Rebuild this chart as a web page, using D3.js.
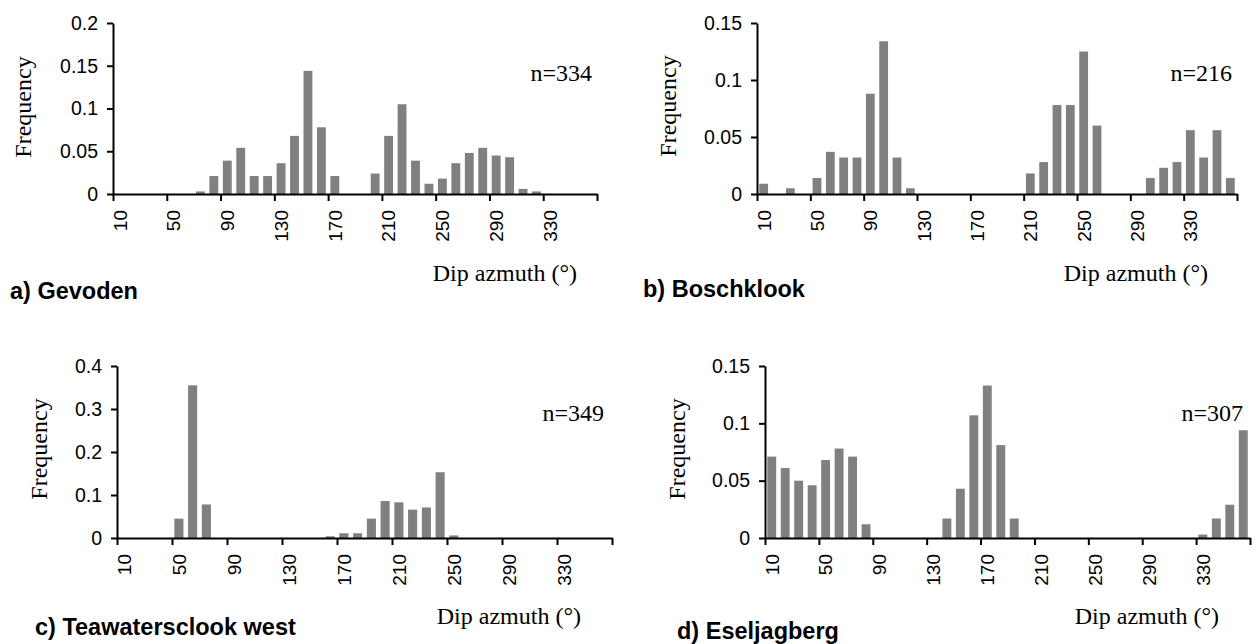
<!DOCTYPE html>
<html>
<head>
<meta charset="utf-8">
<title>Dip azimuth frequency distributions</title>
<script src="https://cdn.jsdelivr.net/npm/d3@7/dist/d3.min.js"></script>
<style>
  html, body { margin: 0; padding: 0; background: #fff; }
  svg { display: block; }
  .tick text { font-family: Arial, "Liberation Sans", sans-serif; font-size: 19.5px; fill: #000; }
  .xlab { font-family: Arial, "Liberation Sans", sans-serif; font-size: 19px; fill: #000; }
  .serif { font-family: "Times New Roman", "Liberation Serif", serif; font-size: 24px; fill: #000; }
  .panel-title { font-family: Arial, "Liberation Sans", sans-serif; font-size: 23.5px; font-weight: bold; fill: #000; }
  .domain, .tick line { stroke: #000; stroke-width: 2; }
</style>
</head>
<body>
<svg id="chart" width="1256" height="644"></svg>
<script>
// 10° dip-azimuth classes (upper class limit)
const azimuthBins = [10, 20, 30, 40, 50, 60, 70, 80, 90, 100, 110, 120,
                     130, 140, 150, 160, 170, 180, 190, 200, 210, 220, 230, 240,
                     250, 260, 270, 280, 290, 300, 310, 320, 330, 340, 350, 360];
const xTickLabels = [10, 50, 90, 130, 170, 210, 250, 290, 330];

// relative frequency per class
const gevoden = [0, 0, 0, 0, 0, 0, 0.003, 0.021, 0.039, 0.054, 0.021, 0.021,
                 0.036, 0.068, 0.144, 0.078, 0.021, 0, 0, 0.024, 0.068, 0.105, 0.039, 0.012,
                 0.018, 0.036, 0.048, 0.054, 0.045, 0.043, 0.006, 0.003, 0, 0, 0, 0];
const boschklook = [0.009, 0, 0.005, 0, 0.014, 0.037, 0.032, 0.032, 0.088, 0.134, 0.032, 0.005,
                    0, 0, 0, 0, 0, 0, 0, 0, 0.018, 0.028, 0.078, 0.078,
                    0.125, 0.060, 0, 0, 0, 0.014, 0.023, 0.028, 0.056, 0.032, 0.056, 0.014];
const teawatersclook = [0, 0, 0, 0, 0.045, 0.355, 0.078, 0, 0, 0, 0, 0,
                        0, 0, 0, 0.004, 0.011, 0.011, 0.045, 0.086, 0.083, 0.066, 0.071, 0.153,
                        0.006, 0, 0, 0, 0, 0, 0, 0, 0, 0, 0, 0];
const eseljagberg = [0.071, 0.061, 0.050, 0.046, 0.068, 0.078, 0.071, 0.012, 0, 0, 0, 0,
                     0, 0.017, 0.043, 0.107, 0.133, 0.081, 0.017, 0, 0, 0, 0, 0,
                     0, 0, 0, 0, 0, 0, 0, 0, 0.003, 0.017, 0.029, 0.094];

const panelTitles = ["a) Gevoden", "b) Boschklook", "c) Teawatersclook west", "d) Eseljagberg"];
const sampleSizes = [334, 216, 349, 307];
const yMaxima = [0.2, 0.15, 0.4, 0.15];
const yTicksA = [0, 0.05, 0.1, 0.15, 0.2];
const yTicksB = [0, 0.05, 0.1, 0.15];
const yTicksC = [0, 0.1, 0.2, 0.3, 0.4];
const yTicksD = [0, 0.05, 0.1, 0.15];

const xTitle = "Dip azmuth (°)";
const yTitle = "Frequency";

// frame geometry for each of the four panels
const frames = [
  { left: 113, right: 597,  top: 23,  bottom: 194, freqX: 25,  freqY: 107, nRight: 592,  nY: 81,  dipRight: 577,  dipY: 281, titleX: 10,  titleY: 299 },
  { left: 757, right: 1237, top: 23,  bottom: 194, freqX: 670, freqY: 106, nRight: 1232, nY: 81,  dipRight: 1208, dipY: 281, titleX: 643, titleY: 297 },
  { left: 117, right: 612,  top: 366, bottom: 538, freqX: 41,  freqY: 449, nRight: 604,  nY: 421, dipRight: 581,  dipY: 624, titleX: 35,  titleY: 635 },
  { left: 765, right: 1250, top: 366, bottom: 538, freqX: 679, freqY: 449, nRight: 1243, nY: 421, dipRight: 1219, dipY: 624, titleX: 677, titleY: 639 }
];

const seriesList = [gevoden, boschklook, teawatersclook, eseljagberg];
const yTickList = [yTicksA, yTicksB, yTicksC, yTicksD];

const svg = d3.select("#chart");
const fmt = d3.format("~g");

seriesList.forEach((values, p) => {
  const f = frames[p];
  const g = svg.append("g");

  const x = d3.scaleBand()
    .domain(azimuthBins)
    .range([f.left, f.right])
    .paddingInner(0.34)
    .paddingOuter(0.17);

  // class boundaries, for the tick marks between classes
  const edge = d3.scaleLinear().domain([0, azimuthBins.length]).range([f.left, f.right]);

  const y = d3.scaleLinear().domain([0, yMaxima[p]]).range([f.bottom, f.top]);

  // bars
  g.append("g")
    .selectAll("rect")
    .data(azimuthBins.map((b, i) => ({ bin: b, v: values[i] })))
    .join("rect")
    .attr("x", d => x(d.bin))
    .attr("width", x.bandwidth())
    .attr("y", d => y(d.v))
    .attr("height", d => f.bottom - y(d.v))
    .attr("fill", "#808080");

  // y axis
  g.append("g")
    .attr("transform", `translate(${f.left},0)`)
    .call(d3.axisLeft(y).tickValues(yTickList[p]).tickSize(6).tickSizeOuter(0).tickPadding(9).tickFormat(fmt));

  // x axis: tick marks every four classes
  g.append("g")
    .attr("transform", `translate(0,${f.bottom})`)
    .call(d3.axisBottom(edge).tickValues(d3.range(0, azimuthBins.length + 1, 4)).tickSize(7).tickSizeOuter(0).tickFormat(""));

  // x tick labels, rotated, centred on their class
  g.append("g")
    .selectAll("text")
    .data(xTickLabels)
    .join("text")
    .attr("class", "xlab")
    .attr("transform", d => `translate(${x(d) + x.bandwidth() / 2},${f.bottom + 16}) rotate(-90)`)
    .attr("text-anchor", "end")
    .attr("dy", "0.36em")
    .text(d => d);

  // axis titles
  g.append("text")
    .attr("class", "serif")
    .attr("transform", `translate(${f.freqX},${f.freqY}) rotate(-90)`)
    .attr("text-anchor", "middle")
    .attr("dy", "0.25em")
    .text(yTitle);

  g.append("text")
    .attr("class", "serif")
    .attr("x", f.dipRight)
    .attr("y", f.dipY)
    .attr("text-anchor", "end")
    .text(xTitle);

  g.append("text")
    .attr("class", "serif")
    .attr("x", f.nRight)
    .attr("y", f.nY)
    .attr("text-anchor", "end")
    .text("n=" + sampleSizes[p]);

  g.append("text")
    .attr("class", "panel-title")
    .attr("x", f.titleX)
    .attr("y", f.titleY)
    .text(panelTitles[p]);
});
</script>
</body>
</html>
